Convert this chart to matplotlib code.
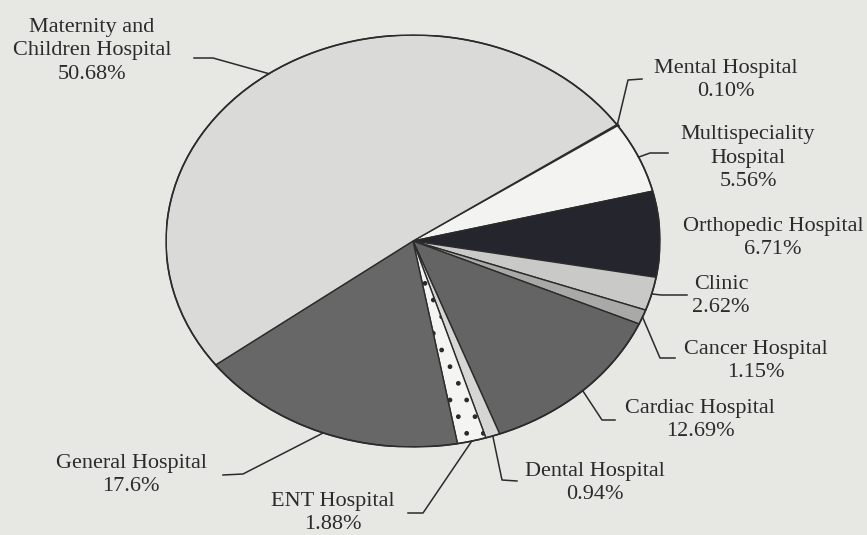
import numpy as np
import matplotlib.pyplot as plt
from matplotlib.patches import Ellipse

# hospital shares, clockwise starting from the thin Mental Hospital wedge
names = ["Mental Hospital", "Multispeciality\nHospital", "Orthopedic Hospital",
         "Clinic", "Cancer Hospital", "Cardiac Hospital", "Dental Hospital",
         "ENT Hospital", "General Hospital", "Maternity and\nChildren Hospital"]
shares = [0.10, 5.56, 6.71, 2.62, 1.15, 12.69, 0.94, 1.88, 17.6, 50.68]
pct_labels = ["0.10%", "5.56%", "6.71%", "2.62%", "1.15%", "12.69%",
              "0.94%", "1.88%", "17.6%", "50.68%"]
colors = ["#222222", "#f3f3f1", "#25252d", "#c9c9c7", "#a9a9a7", "#646464",
          "#d6d6d4", "#f4f4f2", "#676767", "#dadad8"]
hatches = [None, None, None, None, None, None, None, ".", None, None]

# label block centres (pixels) and leader elbows, None = no leader
label_pos = [(726, 80), (748, 158), (773, 238), (721, 296), (756, 361),
             (700, 420), (595, 483), (333, 513), (131, 475), (92, 51)]
leaders = [[(628, 80), (642, 79)], [(650, 153), (668, 153)], None,
           [(661, 295), (687, 295)], [(660, 358), (675, 358)],
           [(602, 420), (615, 420)], [(502, 480), (517, 481)],
           [(423, 513), (408, 513)], [(243, 474), (223, 475)],
           [(213, 58), (194, 58)]]

W, H = 867, 535
cx, cy, rx, ry = 413, 241, 247, 206
start = 34.4
bg = "#e7e7e4"
ink = "#2b2b2b"

fig = plt.figure(figsize=(W / 100, H / 100), dpi=100, facecolor=bg)
ax = fig.add_axes([(cx - rx) / W, (H - cy - ry) / H, 2 * rx / W, 2 * ry / H])
wedges, _ = ax.pie(shares, colors=colors, startangle=start, counterclock=False,
                   wedgeprops=dict(edgecolor=ink, linewidth=1.0))
for w, h in zip(wedges, hatches):
    if h:
        w.set_hatch(h)
wedges[0].set_linewidth(2.5)  # thin mental wedge shows as a thick dark line
ax.set_aspect("auto")
ax.set_xlim(-1, 1)
ax.set_ylim(-1, 1)
ax.add_patch(Ellipse((0, 0), 2, 2, fill=False, edgecolor=ink, linewidth=1.2))
ax.axis("off")

# overlay in pixel coords for labels and leader lines
ov = fig.add_axes([0, 0, 1, 1], facecolor="none")
ov.set_xlim(0, W)
ov.set_ylim(H, 0)
ov.axis("off")

for w, name, pct, pos, ld in zip(wedges, names, pct_labels, label_pos, leaders):
    ov.text(pos[0], pos[1], name + "\n" + pct, ha="center", va="center",
            fontsize=16, family="Liberation Serif", color=ink, linespacing=1.32)
    if ld is None:
        continue
    mid = np.deg2rad((w.theta1 + w.theta2) / 2)
    x0 = cx + rx * np.cos(mid)
    y0 = cy - ry * np.sin(mid)
    xs = [x0] + [p[0] for p in ld]
    ys = [y0] + [p[1] for p in ld]
    ov.plot(xs, ys, color=ink, linewidth=1.1)

fig.savefig("out.png", dpi=100, facecolor=bg)
